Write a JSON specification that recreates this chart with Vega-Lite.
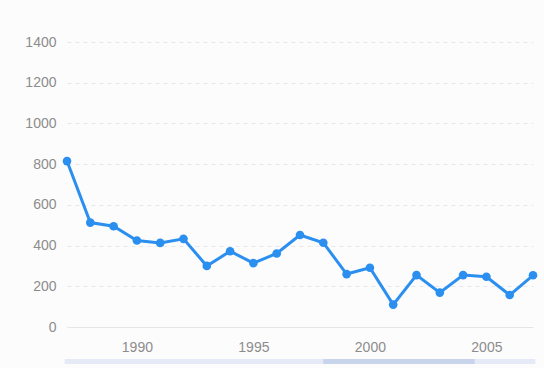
{
  "$schema": "https://vega.github.io/schema/vega-lite/v6.json",
  "background": "#fdfcfd",
  "padding": {"left": 24, "top": 35, "right": 10, "bottom": 4},
  "spacing": 5,
  "config": {"view": {"stroke": null}, "font": "Liberation Sans"},
  "datasets": {
    "main": [
      {"year": 1987, "value": 815},
      {"year": 1988, "value": 513},
      {"year": 1989, "value": 495},
      {"year": 1990, "value": 425},
      {"year": 1991, "value": 413},
      {"year": 1992, "value": 433},
      {"year": 1993, "value": 300},
      {"year": 1994, "value": 372},
      {"year": 1995, "value": 314},
      {"year": 1996, "value": 361},
      {"year": 1997, "value": 452},
      {"year": 1998, "value": 414},
      {"year": 1999, "value": 260},
      {"year": 2000, "value": 291},
      {"year": 2001, "value": 110},
      {"year": 2002, "value": 255},
      {"year": 2003, "value": 169},
      {"year": 2004, "value": 255},
      {"year": 2005, "value": 247},
      {"year": 2006, "value": 157},
      {"year": 2007, "value": 254}
    ],
    "zoom": [
      {"part": "track", "start": 1986.9, "end": 2007.1},
      {"part": "handle", "start": 1998.0, "end": 2004.5}
    ]
  },
  "vconcat": [
    {
      "width": 466,
      "height": 285,
      "data": {"name": "main"},
      "layer": [
        {
          "mark": {"type": "line", "color": "#2b8ff0", "strokeWidth": 3},
          "encoding": {
            "x": {
              "field": "year", "type": "quantitative",
              "scale": {"domain": [1987, 2007], "nice": false, "zero": false},
              "axis": {
                "title": null, "values": [1990, 1995, 2000, 2005], "format": "d",
                "grid": false, "ticks": false, "domain": true, "domainColor": "#e6e6e6",
                "labelColor": "#8c8c8c", "labelFontSize": 14, "labelPadding": 13
              }
            },
            "y": {
              "field": "value", "type": "quantitative",
              "scale": {"domain": [0, 1400], "nice": false},
              "axis": {
                "title": null, "values": [0, 200, 400, 600, 800, 1000, 1200, 1400], "format": "d",
                "grid": true, "gridDash": [4, 4], "gridColor": "#e8e8e8",
                "ticks": false, "domain": false,
                "labelColor": "#8c8c8c", "labelFontSize": 14, "labelPadding": 11
              }
            }
          }
        },
        {
          "mark": {"type": "point", "filled": true, "color": "#2b8ff0", "size": 75, "opacity": 1},
          "encoding": {
            "x": {"field": "year", "type": "quantitative"},
            "y": {"field": "value", "type": "quantitative"}
          }
        }
      ]
    },
    {
      "width": 466,
      "height": 5,
      "data": {"name": "zoom"},
      "mark": {"type": "rect"},
      "encoding": {
        "x": {
          "field": "start", "type": "quantitative",
          "scale": {"domain": [1987, 2007], "nice": false, "zero": false},
          "axis": null
        },
        "x2": {"field": "end"},
        "color": {
          "field": "part", "type": "nominal",
          "scale": {"domain": ["track", "handle"], "range": ["#e6eaf6", "#c8d4ec"]},
          "legend": null
        }
      }
    }
  ]
}
